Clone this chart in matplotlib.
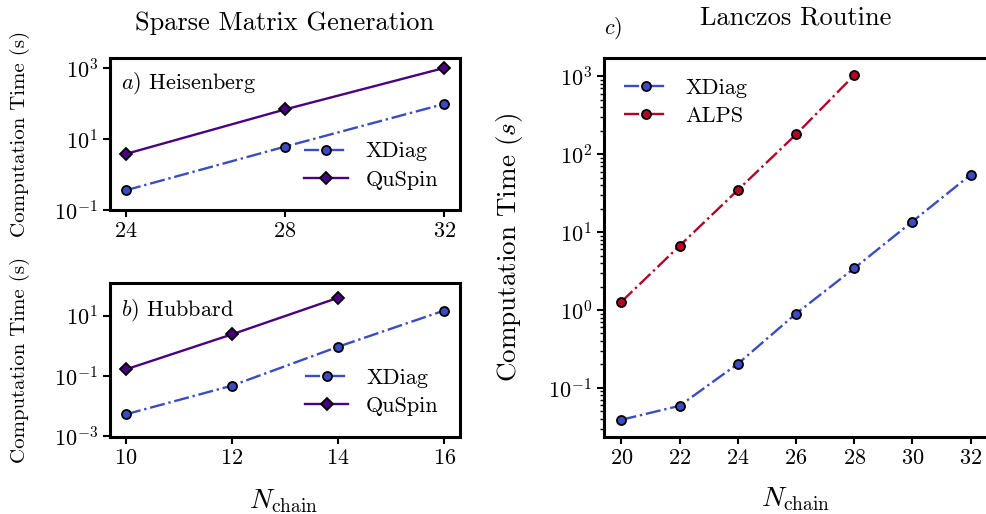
import numpy as np
import matplotlib
matplotlib.use("Agg")
import matplotlib.pyplot as plt
from matplotlib.ticker import LogLocator, NullLocator

plt.rcParams['font.family'] = 'serif'
plt.rcParams['font.serif'] = ['cmr10']
plt.rcParams['mathtext.fontset'] = 'cm'
plt.rcParams['axes.formatter.use_mathtext'] = True
plt.rcParams['axes.unicode_minus'] = True

# Datos - Heisenberg (generacion de matriz dispersa)
n_heis = [24, 28, 32]
xdiag_heis = [0.36, 6.1, 97]
quspin_heis = [3.8, 68, 1000]

# Datos - Hubbard
n_hub_xdiag = [10, 12, 14, 16]
xdiag_hub = [0.0054, 0.048, 0.93, 14.7]
n_hub_quspin = [10, 12, 14]
quspin_hub = [0.166, 2.4, 39]

# Datos - Lanczos
n_lanczos_xdiag = [20, 22, 24, 26, 28, 30, 32]
xdiag_lanczos = [0.039, 0.059, 0.204, 0.90, 3.44, 13.7, 54.6]
n_lanczos_alps = [20, 22, 24, 26, 28]
alps_lanczos = [1.28, 6.7, 34.8, 180, 1037]

c_xdiag = '#3b4cc0'
c_quspin = '#4b0082'
c_alps = '#b40426'

fig = plt.figure(figsize=(9.86, 5.14), dpi=100)
ax1 = fig.add_axes([0.1116, 0.5914, 0.355, 0.2957])
ax2 = fig.add_axes([0.1116, 0.1498, 0.355, 0.2996])
ax3 = fig.add_axes([0.6126, 0.1498, 0.3895, 0.7374])

lw = 1.7
ms = 6.5
kw_x = dict(color=c_xdiag, ls='-.', lw=lw, marker='o', ms=ms, mfc=c_xdiag, mec='black', mew=1.3)
kw_q = dict(color=c_quspin, ls='-', lw=lw, marker='D', ms=ms, mfc=c_quspin, mec='black', mew=1.3)
kw_a = dict(color=c_alps, ls='-.', lw=lw, marker='o', ms=ms, mfc=c_alps, mec='black', mew=1.3)
leg_kw = dict(frameon=False, fontsize=16, handlelength=1.95, labelspacing=0.4)

# a) Heisenberg
ax1.plot(n_heis, xdiag_heis, label='XDiag', **kw_x)
ax1.plot(n_heis, quspin_heis, label='QuSpin', **kw_q)
ax1.set_yscale('log')
ax1.set_ylim(0.1, 10**3.28)
ax1.set_xticks([24, 28, 32])
ax1.set_yticks([1e-1, 1e1, 1e3])
ax1.yaxis.set_minor_locator(NullLocator())
ax1.text(0.03, 0.835, r'$a)$ Heisenberg', transform=ax1.transAxes, fontsize=16, va='center')
ax1.legend(loc='lower right', bbox_to_anchor=(0.975, 0.045), borderaxespad=0.2, **leg_kw)
ax1.set_ylabel('Computation Time (s)', fontsize=15)
ax1.set_title('Sparse Matrix Generation', fontsize=19, pad=20)

# b) Hubbard
ax2.plot(n_hub_xdiag, xdiag_hub, label='XDiag', **kw_x)
ax2.plot(n_hub_quspin, quspin_hub, label='QuSpin', **kw_q)
ax2.set_yscale('log')
ax2.set_ylim(10**-3.02, 10**2.08)
ax2.set_xticks([10, 12, 14, 16])
ax2.set_yticks([1e-3, 1e-1, 1e1])
ax2.yaxis.set_minor_locator(NullLocator())
ax2.text(0.03, 0.825, r'$b)$ Hubbard', transform=ax2.transAxes, fontsize=16, va='center')
ax2.legend(loc='lower right', bbox_to_anchor=(0.977, 0.05), borderaxespad=0.2, **leg_kw)
ax2.set_ylabel('Computation Time (s)', fontsize=15)
ax2.set_xlabel(r'$N_\mathrm{chain}$', fontsize=20)

# c) Lanczos
ax3.plot(n_lanczos_xdiag, xdiag_lanczos, label='XDiag', **kw_x)
ax3.plot(n_lanczos_alps, alps_lanczos, label='ALPS', **kw_a)
ax3.set_yscale('log')
ax3.set_xticks([20, 22, 24, 26, 28, 30, 32])
ax3.yaxis.set_major_locator(LogLocator(base=10))
ax3.yaxis.set_minor_locator(LogLocator(base=10, subs=np.arange(2, 10)))
ax3.legend(loc='upper left', borderaxespad=0.5, **leg_kw)
ax3.set_ylabel(r'Computation Time ($s$)', fontsize=19.5)
ax3.set_xlabel(r'$N_\mathrm{chain}$', fontsize=20)
ax3.set_title('Lanczos Routine', fontsize=19, pad=24)
ax3.text(0.0, 1.045, r'$c)$', transform=ax3.transAxes, fontsize=16, va='bottom')

for ax in (ax1, ax2, ax3):
    for s in ax.spines.values():
        s.set_linewidth(2.2)
    ax.tick_params(which='major', length=5, width=1.5, labelsize=16, direction='out')
    ax.tick_params(which='minor', length=3, width=1.0, direction='out')

ax1.yaxis.set_label_coords(-0.229, 0.5)
ax2.yaxis.set_label_coords(-0.229, 0.5)
ax3.yaxis.set_label_coords(-0.206, 0.5)
ax2.xaxis.set_label_coords(0.495, -0.325)
ax3.xaxis.set_label_coords(0.5, -0.128)

fig.savefig('out.png', dpi=100)
